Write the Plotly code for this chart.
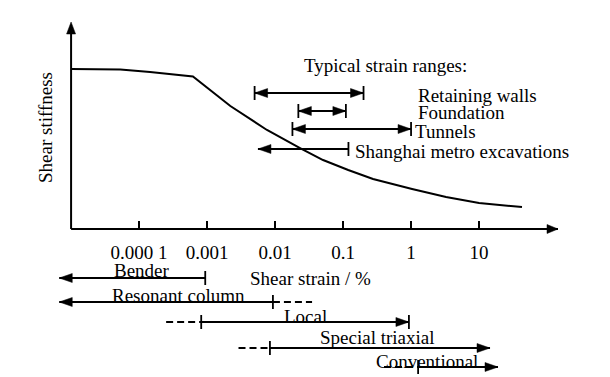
import plotly.graph_objects as go

# ---------------- data ----------------
strain = [1e-5, 5.3e-5, 1.45e-4, 6.2e-4, 2.2e-3, 7.6e-3, 0.0233, 0.0508, 0.119, 0.276, 1.035, 3.27, 10, 42.8]
stiffness = [1.0, 0.997, 0.981, 0.953, 0.769, 0.619, 0.506, 0.431, 0.369, 0.3125, 0.25, 0.2, 0.1625, 0.1375]

tick_vals = [1e-4, 1e-3, 1e-2, 0.1, 1, 10]
tick_text = ["0.000 1", "0.001", "0.01", "0.1", "1", "10"]

typical_names = ["Retaining walls", "Foundation", "Tunnels", "Shanghai metro excavations"]
typical_lo = [0.005, 0.022, 0.018, 0.0056]
typical_hi = [0.2, 0.11, 1.0, 0.12]

test_names = ["Bender", "Resonant column", "Local", "Special triaxial", "Conventional"]
test_lo = [6.7e-6, 6.7e-6, 8.2e-4, 8.4e-3, 1.27]
test_hi = [9.4e-4, 9.3e-3, 0.93, 14.5, 19.0]
test_dash_lo = [None, None, 2.5e-4, 2.9e-3, 0.4]
test_dash_hi = [None, 0.035, None, None, None]

X_ORIGIN = 1e-5
LOG_RANGE = [-5.31, 2.161]
Y_RANGE = [0, 1.294]

# ---------------- layout helpers (pixel geometry) ----------------
OFF = 8  # page body margin
W, H = 610 - OFF, 377 - OFF
ML, MR, MT, MB = 50 - OFF, 52, 22 - OFF, 148
PW, PH = W - ML - MR, H - MT - MB
FONT = "Times New Roman, Liberation Serif, serif"
FS = 19


def px_x(p):
    # p: pixel in the browser window
    return (p - OFF - ML) / PW


def px_y(p):
    return (H - MB - (p - OFF)) / PH


fig = go.Figure()
fig.add_trace(go.Scatter(x=strain, y=stiffness, mode="lines",
                         line=dict(color="black", width=2), hoverinfo="skip",
                         showlegend=False))

shapes = []
annotations = []
LW = 1.8


def hline(x0, x1, yp, dash=None):
    shapes.append(dict(type="line", xref="x", yref="paper", x0=x0, x1=x1,
                       y0=px_y(yp), y1=px_y(yp),
                       line=dict(color="black", width=LW, dash=dash or "solid")))


def bar(x, yp, h=7):
    shapes.append(dict(type="line", xref="x", yref="paper", x0=x, x1=x,
                       ysizemode="pixel", yanchor=px_y(yp), y0=-h, y1=h,
                       line=dict(color="black", width=1.8)))


def head(x, yp, direction, L=13, hw=4.5):
    if direction == "left":
        path = f"M0,0 L{L},{hw} L{L},{-hw} Z"
    else:
        path = f"M0,0 L{-L},{hw} L{-L},{-hw} Z"
    shapes.append(dict(type="path", xref="x", yref="paper", xsizemode="pixel",
                       ysizemode="pixel", xanchor=x, yanchor=px_y(yp), path=path,
                       fillcolor="black", line=dict(color="black", width=0.5)))


# axes
x_end = 10 ** LOG_RANGE[1]
shapes.append(dict(type="line", xref="x", yref="paper", x0=X_ORIGIN, x1=x_end,
                   y0=0, y1=0, line=dict(color="black", width=2)))
shapes.append(dict(type="line", xref="x", yref="paper", x0=X_ORIGIN, x1=X_ORIGIN,
                   y0=0, y1=0.97, line=dict(color="black", width=2)))
shapes.append(dict(type="path", xref="x", yref="paper", xsizemode="pixel",
                   ysizemode="pixel", xanchor=x_end, yanchor=0,
                   path="M0,0 L-11,4.5 L-11,-4.5 Z", fillcolor="black",
                   line=dict(color="black", width=0.5)))
shapes.append(dict(type="path", xref="x", yref="paper", xsizemode="pixel",
                   ysizemode="pixel", xanchor=X_ORIGIN, yanchor=1,
                   path="M0,0 L-4.5,-12 L4.5,-12 Z", fillcolor="black",
                   line=dict(color="black", width=0.5)))

# typical strain ranges (above)
typ_rows = [93, 111, 129, 149]
typ_style = [("barhead", "barhead"), ("barhead", "barhead"), ("barhead", "barhead"), ("head", "bar")]
typ_label_x = [416, 416, 413, 353]
typ_label_y = [95, 113, 131, 151]
for i, name in enumerate(typical_names):
    yp = typ_rows[i]
    lo, hi = typical_lo[i], typical_hi[i]
    hline(lo, hi, yp)
    ls, rs = typ_style[i]
    if "head" in ls:
        head(lo, yp, "left")
    if "bar" in ls:
        bar(lo, yp)
    if "head" in rs:
        head(hi, yp, "right")
    if "bar" in rs:
        bar(hi, yp)
    annotations.append(dict(text=name, xref="paper", yref="paper",
                            x=px_x(typ_label_x[i]), y=px_y(typ_label_y[i]),
                            xanchor="left", yanchor="middle", showarrow=False))

annotations.append(dict(text="Typical strain ranges:", xref="paper", yref="paper",
                        x=px_x(385), y=px_y(66), xanchor="center", yanchor="middle",
                        showarrow=False))

# test ranges (below)
test_rows = [278, 302, 322, 348, 367]
test_style = [("head", "bar"), ("head", "bar"), ("bar", "barhead"), ("bar", "head"), ("bar", "head")]
test_label_x = [142, 178, 305, 377, 427]
test_label_y = [270, 295, 316, 337, 361]
for i, name in enumerate(test_names):
    yp = test_rows[i]
    lo, hi = test_lo[i], test_hi[i]
    hline(lo, hi, yp)
    if test_dash_lo[i] is not None:
        hline(test_dash_lo[i], lo, yp, dash="7px,4px")
    if test_dash_hi[i] is not None:
        hline(hi, test_dash_hi[i], yp, dash="7px,4px")
    ls, rs = test_style[i]
    if "head" in ls:
        head(lo, yp, "left")
    if "bar" in ls:
        bar(lo, yp)
    if "head" in rs:
        head(hi, yp, "right")
    if "bar" in rs:
        bar(hi, yp)
    annotations.append(dict(text=name, xref="paper", yref="paper",
                            x=px_x(test_label_x[i]), y=px_y(test_label_y[i]),
                            xanchor="center", yanchor="middle", showarrow=False))

annotations.append(dict(text="Shear strain / %", xref="paper", yref="paper",
                        x=px_x(310), y=px_y(278), xanchor="center", yanchor="middle",
                        showarrow=False))
annotations.append(dict(text="Shear stiffness", xref="paper", yref="paper",
                        x=px_x(45), y=px_y(128), xanchor="center", yanchor="middle",
                        textangle=-90, showarrow=False))

fig.update_layout(
    width=W, height=H,
    margin=dict(l=ML, r=MR, t=MT, b=MB, pad=0),
    paper_bgcolor="white", plot_bgcolor="white",
    font=dict(family=FONT, size=FS, color="black"),
    showlegend=False,
    shapes=shapes,
    annotations=annotations,
    xaxis=dict(type="log", range=LOG_RANGE, showgrid=False, zeroline=False,
               showline=False, ticks="inside", ticklen=8, tickwidth=2,
               tickcolor="black", tickvals=tick_vals, ticktext=tick_text,
               ticklabelstandoff=10, tickfont=dict(family=FONT, size=FS)),
    yaxis=dict(range=Y_RANGE, showgrid=False, zeroline=False, showline=False,
               showticklabels=False, ticks=""),
)

fig.write_html("out.html")
